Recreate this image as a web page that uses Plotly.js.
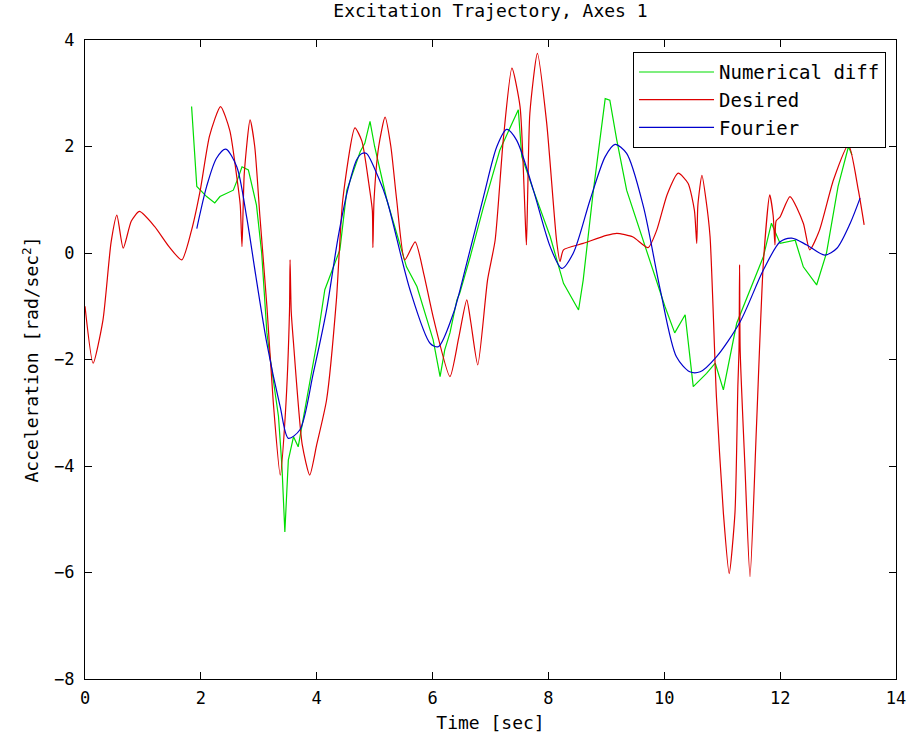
<!DOCTYPE html>
<html>
<head>
<meta charset="utf-8">
<script src="https://cdn.plot.ly/plotly-3.0.1.min.js"></script>
<style>html,body{margin:0;padding:0;background:#fff;}#chart{width:907px;height:745px;}</style>
</head>
<body>
<div id="chart"></div>
<script>
// Numerical diff (green)
const numT = [1.84,1.93,2.10,2.24,2.33,2.56,2.65,2.71,2.82,2.96,3.05,3.14,3.20,3.34,3.40,3.45,3.51,3.60,3.68,3.83,4.00,4.14,4.40,4.52,4.75,4.83,4.92,5.00,5.21,5.55,5.73,6.01,6.13,6.21,6.30,6.42,6.47,6.65,6.88,7.16,7.48,7.54,7.74,8.03,8.26,8.52,8.60,8.77,8.98,9.06,9.18,9.35,9.64,9.81,10.01,10.18,10.36,10.50,10.73,10.88,11.02,11.25,11.48,11.71,11.85,12.00,12.26,12.40,12.63,12.80,13.00,13.18,13.24];
const numY = [2.75,1.25,1.06,0.94,1.06,1.18,1.43,1.62,1.56,0.90,0.00,-1.50,-2.00,-3.07,-4.01,-5.24,-3.89,-3.45,-3.64,-2.70,-1.70,-0.69,0.06,1.18,1.90,2.06,2.47,2.00,1.00,-0.26,-0.63,-1.63,-2.32,-1.82,-1.50,-0.88,-0.75,-0.07,0.87,1.93,2.69,1.81,1.18,0.31,-0.57,-1.07,-0.51,1.12,2.90,2.87,2.12,1.18,0.24,-0.32,-1.00,-1.50,-1.16,-2.51,-2.26,-2.07,-2.57,-1.32,-0.69,-0.07,0.56,0.18,0.24,-0.26,-0.60,0.00,1.25,2.00,1.84];

// Desired (red)
const desT = [0.00,0.14,0.31,0.45,0.55,0.66,0.80,0.94,1.20,1.45,1.67,1.84,1.99,2.15,2.34,2.50,2.62,2.68,2.71,2.75,2.85,2.93,3.02,3.14,3.25,3.37,3.46,3.53,3.54,3.56,3.60,3.75,3.88,4.00,4.17,4.34,4.45,4.66,4.78,4.90,4.96,4.97,4.99,5.07,5.18,5.28,5.38,5.52,5.70,5.85,6.01,6.30,6.45,6.59,6.66,6.78,6.95,7.08,7.22,7.37,7.51,7.58,7.60,7.62,7.64,7.68,7.81,7.97,8.14,8.20,8.26,8.60,9.00,9.18,9.46,9.72,9.87,10.05,10.24,10.41,10.52,10.56,10.58,10.65,10.72,10.79,10.90,11.02,11.12,11.22,11.27,11.29,11.30,11.31,11.39,11.48,11.59,11.71,11.82,11.88,11.91,11.93,12.00,12.17,12.40,12.51,12.68,12.92,13.18,13.35,13.45];
const desY = [-1.00,-2.07,-1.26,0.20,0.71,0.09,0.60,0.78,0.50,0.12,-0.13,0.43,1.18,2.20,2.75,2.30,1.43,0.90,0.12,1.50,2.50,2.00,0.68,-1.00,-2.80,-4.17,-3.00,-1.10,-0.13,-1.10,-1.70,-3.60,-4.17,-3.60,-2.76,-0.88,1.00,2.35,2.10,1.30,0.80,0.10,1.00,2.00,2.55,2.00,1.00,-0.13,0.21,-0.40,-1.20,-2.32,-1.60,-0.88,-1.30,-2.10,-0.50,0.24,2.12,3.47,2.75,1.20,0.62,0.15,1.00,2.63,3.75,2.44,0.24,-0.16,0.06,0.18,0.33,0.37,0.30,0.10,0.43,1.10,1.50,1.31,0.80,0.18,0.90,1.46,1.00,0.31,-2.70,-4.88,-6.02,-4.88,-2.50,-1.82,-0.22,-1.82,-3.95,-6.08,-3.30,-0.19,1.09,0.70,0.15,0.60,0.68,1.06,0.56,0.06,0.43,1.37,2.03,1.18,0.53];

// Fourier (blue)
const fouT = [1.93,2.10,2.27,2.43,2.62,2.79,2.96,3.14,3.37,3.51,3.71,3.94,4.17,4.37,4.55,4.69,4.78,4.86,5.06,5.21,5.61,5.96,6.10,6.36,6.59,6.88,7.11,7.28,7.45,7.74,8.03,8.23,8.43,8.72,8.98,9.15,9.35,9.64,9.93,10.21,10.44,10.62,10.90,11.31,11.71,12.00,12.20,12.46,12.77,12.98,13.21,13.38];
const fouY = [0.46,1.25,1.78,1.95,1.62,0.68,-0.51,-1.70,-2.89,-3.48,-3.32,-2.26,-1.07,0.30,1.25,1.75,1.87,1.87,1.43,1.00,-0.69,-1.70,-1.76,-1.13,-0.19,1.06,2.00,2.32,2.12,1.18,0.12,-0.29,0.00,1.00,1.81,2.04,1.87,0.87,-0.69,-1.95,-2.23,-2.23,-1.95,-1.29,-0.32,0.21,0.28,0.15,-0.04,0.09,0.56,1.03];

const xTicks = [0,2,4,6,8,10,12,14];
const yTicks = [-8,-6,-4,-2,0,2,4];
const yTickText = ['\u22128','\u22126','\u22124','\u22122','0','2','4'];

const mono = 'DejaVu Sans Mono, Liberation Mono, monospace';

const traces = [
  {x: numT, y: numY, name: 'Numerical diff', mode: 'lines', line: {color: '#00dd00', width: 1.2}},
  {x: desT, y: desY, name: 'Desired', mode: 'lines', line: {color: '#dd0000', width: 1.2, shape: 'spline', smoothing: 0.6}},
  {x: fouT, y: fouY, name: 'Fourier', mode: 'lines', line: {color: '#0000cc', width: 1.2, shape: 'spline', smoothing: 0.8}}
];

const axisCommon = {
  showline: true, linecolor: '#000', linewidth: 1, mirror: 'ticks',
  ticks: 'inside', ticklen: 7, tickcolor: '#000', tickwidth: 1,
  showgrid: false, zeroline: false,
  tickfont: {family: mono, size: 17, color: '#000'}
};

const layout = {
  width: 907, height: 745,
  margin: {l: 85, r: 11, t: 40, b: 66},
  paper_bgcolor: '#fff', plot_bgcolor: '#fff',
  title: {text: 'Excitation Trajectory, Axes 1', font: {family: mono, size: 18, color: '#000'},
          x: 0.5, xref: 'paper', xanchor: 'center', y: 0.985, yanchor: 'middle'},
  xaxis: Object.assign({}, axisCommon, {
    range: [0, 14], tickvals: xTicks, ticktext: xTicks.map(String), ticklabelstandoff: 4,
    title: {text: 'Time [sec]', font: {family: mono, size: 18, color: '#000'}, standoff: 8}
  }),
  yaxis: Object.assign({}, axisCommon, {
    range: [-8, 4], tickvals: yTicks, ticktext: yTickText, ticklabelstandoff: 6,
    title: {text: 'Acceleration [rad/sec<sup>2</sup>]', font: {family: mono, size: 18, color: '#000'}, standoff: 10}
  }),
  showlegend: true,
  legend: {
    x: 0.9877, xanchor: 'right', y: 0.981, yanchor: 'top',
    bgcolor: '#fff', bordercolor: '#000', borderwidth: 1,
    font: {family: mono, size: 19, color: '#000'},
    itemwidth: 75, tracegroupgap: 0
  }
};

Plotly.newPlot('chart', traces, layout, {displayModeBar: false, staticPlot: true});
</script>
</body>
</html>
